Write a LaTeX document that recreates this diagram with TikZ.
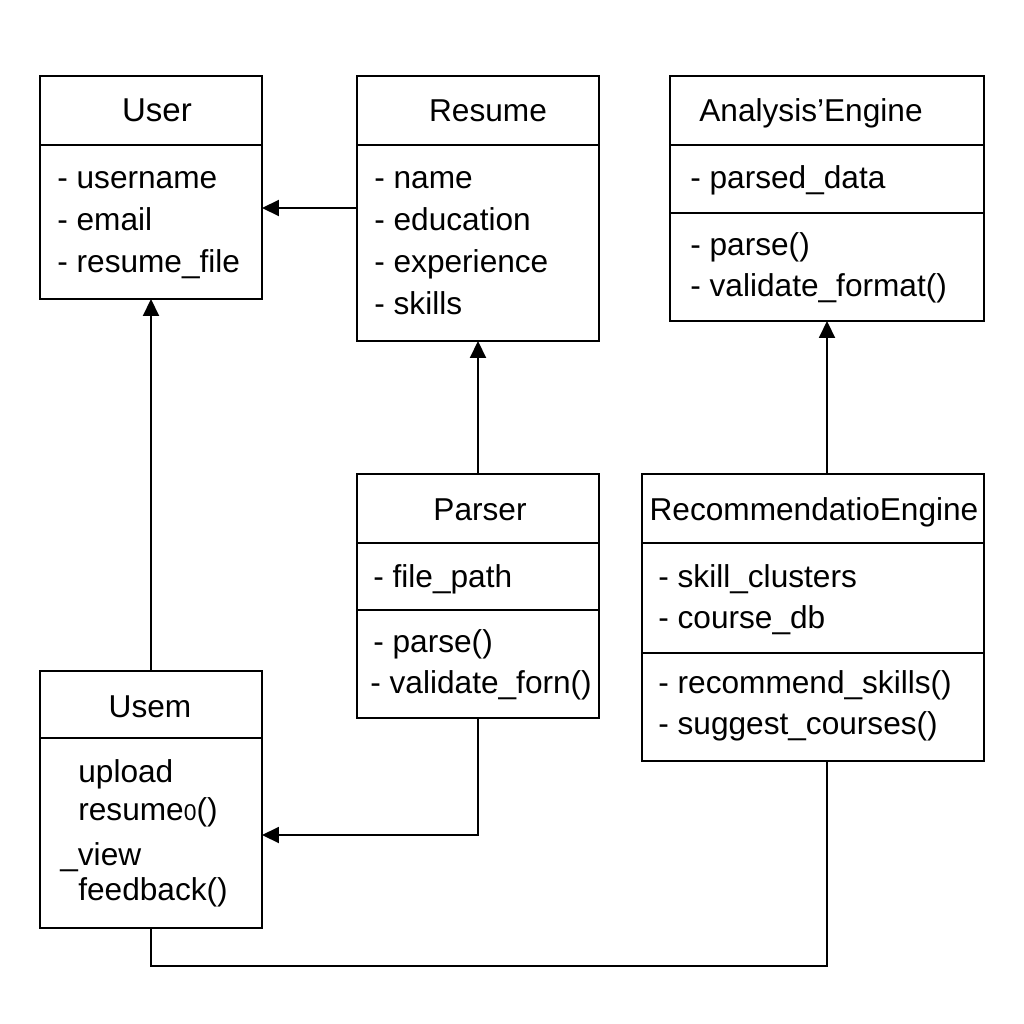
\documentclass[tikz,border=0pt]{standalone}
\usepackage{fontspec}
\setmainfont{Liberation Sans}
\usetikzlibrary{arrows.meta}
\begin{document}
\begin{tikzpicture}[x=0.02cm,y=-0.02cm,font=\fontsize{18}{21}\selectfont]
\tikzstyle{box} = [draw, line width=1.1pt, inner sep=0, outer sep=0]
\tikzstyle{title} = [anchor=base, inner sep=0]
\tikzstyle{attr} = [anchor=base west, inner sep=0]
\tikzstyle{line} = [line width=1.1pt]
\tikzstyle{arrow} = [-{Triangle[length=0.34cm,width=0.32cm]}, line width=1.1pt]

\useasboundingbox (0,0) rectangle (1024,1024);

% classes
\node [box, minimum width=4.44cm, minimum height=4.46cm] (user) at (151,187.5) {};
\node [box, minimum width=4.84cm, minimum height=5.3cm] (resume) at (478,208.5) {};
\node [box, minimum width=6.28cm, minimum height=4.9cm] (ae) at (827,198.5) {};
\node [box, minimum width=4.84cm, minimum height=4.88cm] (parser) at (478,596) {};
\node [box, minimum width=6.84cm, minimum height=5.74cm] (rec) at (813,617.5) {};
\node [box, minimum width=4.44cm, minimum height=5.14cm] (usem) at (151,799.5) {};

% compartments
\foreach \b/\y in {user/145,resume/145,ae/145,ae/213,parser/543,parser/610,rec/543,rec/653,usem/738}
		{
			\draw [line] (\b.west |- 0,\y) -- (\b.east |- 0,\y);
		}

% titles
\node [title, font=\fontsize{18.8}{21}\selectfont] (usertitle) at (157,122) {User};
\node [title] (resumetitle) at (488,122) {Resume};
\node [title] (aetitle) at (811,122) {Analysis’Engine};
\node [title] (parsertitle) at (480,520) {Parser};
\node [title] (rectitle) at (814,520) {RecommendatioEngine};
\node [title] (usemtitle) at (150,717) {Usem};

% attributes and methods
\foreach \t [count=\i from 0] in {username,email,resume\_file}
		{
			\node [attr] (userattr\i) at (57,188+\i*42) {- \t};
		}
\foreach \t [count=\i from 0] in {name,education,experience,skills}
		{
			\node [attr] (resumeattr\i) at (374,188+\i*42) {- \t};
		}
\node [attr] (aeattr0) at (690,188) {- parsed\_data};
\node [attr] (aeop0) at (690,255) {- parse()};
\node [attr] (aeop1) at (690,296) {- validate\_format()};
\node [attr] (parserattr0) at (373,587) {- file\_path};
\node [attr] (parserop0) at (373,652) {- parse()};
\node [attr] (parserop1) at (370,693) {- validate\_forn()};
\node [attr] (recattr0) at (658,587) {- skill\_clusters};
\node [attr] (recattr1) at (658,628) {- course\_db};
\node [attr] (recop0) at (658,693) {- recommend\_skills()};
\node [attr] (recop1) at (658,734) {- suggest\_courses()};
\node [attr] (usemop0) at (78,782) {upload};
\node [attr] (usemop1) at (78,820) {resume{\fontsize{13}{15}\selectfont 0}()};
\node [attr] (usemop2) at (60,865) {\_view};
\node [attr] (usemop3) at (78,900) {feedback()};

% connectors
\coordinate (resumelevel) at (0,208);
\coordinate (parserturn) at (478,835);
\coordinate (bottomturn) at (151,966);
\draw [arrow] (resume.west |- resumelevel) -- (user.east |- resumelevel);
\draw [arrow] (usem.north) -- (user.south);
\draw [arrow] (parser.north) -- (resume.south);
\draw [arrow] (rec.north -| ae.south) -- (ae.south);
\draw [arrow] (parser.south) |- (usem.east |- parserturn);
\draw [line] (usem.south) |- (bottomturn -| ae.south) -- (rec.south -| ae.south);
\end{tikzpicture}
\end{document}
